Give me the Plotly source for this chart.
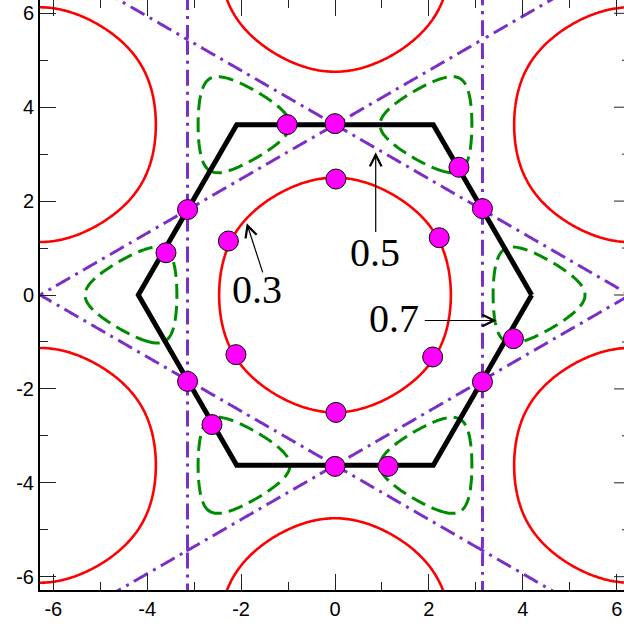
import numpy as np
import plotly.graph_objects as go

SQ3 = np.sqrt(3.0)

# Fermi-surface energies (t = 1) for the three fillings
levels = {"0.3": 0.24, "0.5": 2.0, "0.7": 2.4}

# Brillouin-zone hexagon corners
hex_kx = [4.189, 2.094, -2.094, -4.189, -2.094, 2.094, 4.189]
hex_ky = [0.0, 3.628, 3.628, 0.0, -3.628, -3.628, 0.0]

# marked k-points on the zone boundary and the Fermi surfaces
pts_kx = [-1.02, 0.0, 2.64, 3.14, -3.14, -3.60, 0.02, -2.27, 2.22,
          -2.11, 2.08, 0.02, 3.80, 3.14, -3.14, -2.62, 0.0, 1.13]
pts_ky = [3.63, 3.65, 2.72, 1.84, 1.82, 0.90, 2.47, 1.15, 1.22,
          -1.27, -1.32, -2.50, -0.93, -1.85, -1.84, -2.76, -3.65, -3.65]

# labels with arrows: (text, text_x, text_y, tail_x, tail_y, head_x, head_y)
labels = [
    ("0.3", -1.66, 0.12, -1.53, 0.45, -1.88, 1.53),
    ("0.5", 0.85, 0.90, 0.867, 1.31, 0.867, 3.04),
    ("0.7", 1.26, -0.50, 1.88, -0.543, 3.44, -0.543),
]


def band(kx, ky):
    """Nearest-neighbour triangular-lattice band, t = 1."""
    KX, KY = np.meshgrid(kx, ky)
    return (-2.0 * (np.cos(KX) + 2.0 * np.cos(KX / 2) * np.cos(SQ3 * KY / 2))).astype(np.float32)


k = np.linspace(-6.43, 6.41, 321)
energy = band(k, k)
# hole pockets are traced only inside |ky| < 5.9
k_pocket = np.linspace(-5.9, 5.9, 297)
energy_pocket = band(k, k_pocket)

fig = go.Figure()


def fermi_contour(kx, ky, z, level, color, width, dash):
    return go.Contour(
        x=kx, y=ky, z=z, autocontour=False,
        contours=dict(start=level, end=level, size=1.0, coloring="none", showlabels=False),
        line=dict(color=color, width=width, dash=dash, smoothing=0.8),
        showscale=False, hoverinfo="skip",
    )


fig.add_trace(fermi_contour(k, k, energy, levels["0.3"], "#ff0000", 2.6, "solid"))
fig.add_trace(fermi_contour(k, k_pocket, energy_pocket, levels["0.7"], "#008c00", 3, "15px,7px"))
fig.add_trace(fermi_contour(k, k, energy, levels["0.5"], "#7a2fc6", 3, "16px,6px,3px,6px"))

fig.add_trace(go.Scatter(x=hex_kx, y=hex_ky, mode="lines",
                         line=dict(color="black", width=5), hoverinfo="skip"))
fig.add_trace(go.Scatter(x=pts_kx, y=pts_ky, mode="markers",
                         marker=dict(size=20, color="#ff00ff",
                                     line=dict(color="black", width=1)),
                         hoverinfo="skip"))
# carrier for the top tick axis
fig.add_trace(go.Scatter(x=[None], y=[None], xaxis="x2", showlegend=False, hoverinfo="skip"))

for text, tx, ty, ax0, ay0, hx, hy in labels:
    fig.add_annotation(x=hx, y=hy, ax=ax0, ay=ay0, axref="x", ayref="y",
                       text="", showarrow=True, arrowhead=5, arrowsize=1.9,
                       arrowwidth=1.2, arrowcolor="black", standoff=0, startstandoff=0)
    fig.add_annotation(x=tx, y=ty, text=text, showarrow=False,
                       font=dict(family="Liberation Serif, Times New Roman, serif",
                                 size=40, color="black"))

major = [-6, -4, -2, 0, 2, 4, 6]
minor_vals = [-5, -3, -1, 1, 3, 5]
major_txt = [str(v) for v in major]

tick_style = dict(ticks="inside", ticklen=16, tickwidth=1, tickcolor="#222",
                  tickmode="array", tickvals=major,
                  minor=dict(tickmode="array", tickvals=minor_vals, ticks="inside",
                             ticklen=8, tickwidth=1, tickcolor="#222"),
                  showgrid=False, zeroline=False)

two_pi = 2 * np.pi
px_per_unit = 590 / (2 * two_pi)
x_hi = -two_pi + 584 / px_per_unit

fig.update_layout(
    width=624, height=626,
    margin=dict(l=40, r=0, t=0, b=36),
    paper_bgcolor="white", plot_bgcolor="white",
    showlegend=False,
    font=dict(family="Liberation Sans, Arial, sans-serif", size=20, color="black"),
    xaxis=dict(range=[-two_pi, x_hi], showline=True, linewidth=2, linecolor="black",
               ticktext=major_txt, **tick_style),
    yaxis=dict(range=[-two_pi, two_pi], showline=True, linewidth=2, linecolor="black",
               ticktext=major_txt, **tick_style),
    xaxis2=dict(range=[-two_pi, x_hi], overlaying="x", side="top", anchor="y",
                showline=False, showticklabels=False, **tick_style),
)

# inward ticks of the right-hand frame at k_x = 2*pi
for v in major + minor_vals:
    length = (16 if v in major else 8) / px_per_unit
    fig.add_shape(type="line", xref="x", yref="y", x0=two_pi - length, x1=two_pi,
                  y0=v, y1=v, line=dict(color="#222", width=1))

fig.write_html("out.html")
